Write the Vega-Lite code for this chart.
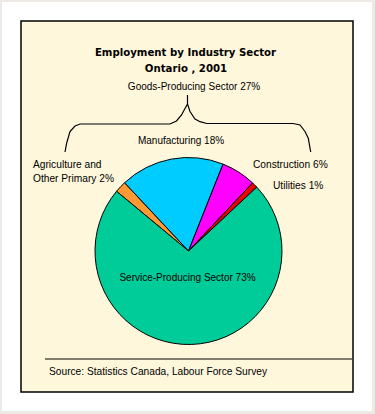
{
  "$schema": "https://vega.github.io/schema/vega-lite/v6.json",
  "width": 375,
  "height": 414,
  "autosize": {"type": "fit", "contains": "padding"},
  "padding": {"left": 2, "top": 2, "right": 3, "bottom": 3},
  "background": "#EDEAE6",
  "config": {"view": {"stroke": null, "fill": "#FFFFFF"}, "text": {"font": "Liberation Sans"}},
  "layer": [
    {
      "data": {"values": [{"part": "frame", "x1": 21, "x2": 353, "y1": 21, "y2": 392}]},
      "mark": {"type": "rect", "fill": "#FFF7DC", "stroke": "#000000", "strokeWidth": 1.5},
      "encoding": {
        "x": {"field": "x1", "type": "quantitative", "scale": {"domain": [2, 372], "nice": false, "zero": false}, "axis": null},
        "x2": {"field": "x2"},
        "y": {"field": "y1", "type": "quantitative", "scale": {"domain": [2, 411], "nice": false, "zero": false, "reverse": true}, "axis": null},
        "y2": {"field": "y2"}
      }
    },
    {
      "data": {"values": [{"part": "source line", "x1": 45, "x2": 352, "y": 359}]},
      "mark": {"type": "rule", "stroke": "#000000", "strokeWidth": 1},
      "encoding": {
        "x": {"field": "x1", "type": "quantitative", "axis": null},
        "x2": {"field": "x2"},
        "y": {"field": "y", "type": "quantitative", "axis": null}
      }
    },
    {
      "data": {"values": [
        {"i": 1, "x": 65, "y": 152},
        {"i": 2, "x": 66.7, "y": 143},
        {"i": 3, "x": 70, "y": 131.5},
        {"i": 4, "x": 75, "y": 126},
        {"i": 5, "x": 80, "y": 124},
        {"i": 6, "x": 170, "y": 124},
        {"i": 7, "x": 176.5, "y": 121},
        {"i": 8, "x": 181.5, "y": 115},
        {"i": 9, "x": 185, "y": 108.5},
        {"i": 10, "x": 187.5, "y": 104},
        {"i": 11, "x": 187.5, "y": 95},
        {"i": 12, "x": 187.5, "y": 104},
        {"i": 13, "x": 190, "y": 111.5},
        {"i": 14, "x": 195, "y": 119},
        {"i": 15, "x": 200, "y": 121.7},
        {"i": 16, "x": 206.7, "y": 123.5},
        {"i": 17, "x": 293, "y": 123.5},
        {"i": 18, "x": 300, "y": 125},
        {"i": 19, "x": 305, "y": 131.5},
        {"i": 20, "x": 308.3, "y": 138.3},
        {"i": 21, "x": 310.7, "y": 152}
      ]},
      "mark": {"type": "line", "stroke": "#000000", "strokeWidth": 1.2},
      "encoding": {
        "x": {"field": "x", "type": "quantitative", "axis": null},
        "y": {"field": "y", "type": "quantitative", "axis": null},
        "order": {"field": "i", "type": "quantitative"}
      }
    },
    {
      "data": {"values": [
        {"sector": "Agriculture and Other Primary", "pct": 2, "ord": 1, "cx": 188.5, "cy": 251},
        {"sector": "Manufacturing", "pct": 18, "ord": 2, "cx": 188.5, "cy": 251},
        {"sector": "Construction", "pct": 6, "ord": 3, "cx": 188.5, "cy": 251},
        {"sector": "Utilities", "pct": 1, "ord": 4, "cx": 188.5, "cy": 251},
        {"sector": "Service-Producing Sector", "pct": 73, "ord": 5, "cx": 188.5, "cy": 251}
      ]},
      "mark": {"type": "arc", "outerRadius": 93.5, "stroke": "#000000", "strokeWidth": 1},
      "encoding": {
        "theta": {"field": "pct", "type": "quantitative", "stack": true, "scale": {"range": [-0.878, 5.4052]}},
        "order": {"field": "ord", "type": "quantitative"},
        "color": {"field": "sector", "type": "nominal", "legend": null,
          "scale": {"domain": ["Agriculture and Other Primary", "Manufacturing", "Construction", "Utilities", "Service-Producing Sector"],
                    "range": ["#FF9933", "#00CCFF", "#FF00FF", "#EE0000", "#00CC99"]}},
        "x": {"field": "cx", "type": "quantitative", "axis": null},
        "y": {"field": "cy", "type": "quantitative", "axis": null}
      }
    },
    {
      "data": {"values": [
        {"text": "Employment by Industry Sector", "x": 185.5, "y": 56},
        {"text": "Ontario , 2001", "x": 186, "y": 72}
      ]},
      "mark": {"type": "text", "font": "DejaVu Sans Condensed, Liberation Sans", "fontSize": 11.3, "fontWeight": "bold", "align": "center", "baseline": "alphabetic", "color": "#000000"},
      "encoding": {
        "x": {"field": "x", "type": "quantitative", "axis": null},
        "y": {"field": "y", "type": "quantitative", "axis": null},
        "text": {"field": "text"}
      }
    },
    {
      "data": {"values": [
        {"text": "Goods-Producing Sector 27%", "x": 194, "y": 90},
        {"text": "Manufacturing 18%", "x": 181, "y": 144},
        {"text": "Service-Producing Sector 73%", "x": 187.5, "y": 281}
      ]},
      "mark": {"type": "text", "fontSize": 10, "align": "center", "baseline": "alphabetic", "color": "#000000"},
      "encoding": {
        "x": {"field": "x", "type": "quantitative", "axis": null},
        "y": {"field": "y", "type": "quantitative", "axis": null},
        "text": {"field": "text"}
      }
    },
    {
      "data": {"values": [
        {"text": "Agriculture and", "x": 33, "y": 168},
        {"text": "Other Primary 2%", "x": 33, "y": 182},
        {"text": "Construction 6%", "x": 253, "y": 168},
        {"text": "Utilities  1%", "x": 273, "y": 188.5},
        {"text": "Source: Statistics Canada, Labour Force Survey", "x": 49, "y": 375}
      ]},
      "mark": {"type": "text", "fontSize": 10.2, "align": "left", "baseline": "alphabetic", "color": "#000000"},
      "encoding": {
        "x": {"field": "x", "type": "quantitative", "axis": null},
        "y": {"field": "y", "type": "quantitative", "axis": null},
        "text": {"field": "text"}
      }
    }
  ]
}
